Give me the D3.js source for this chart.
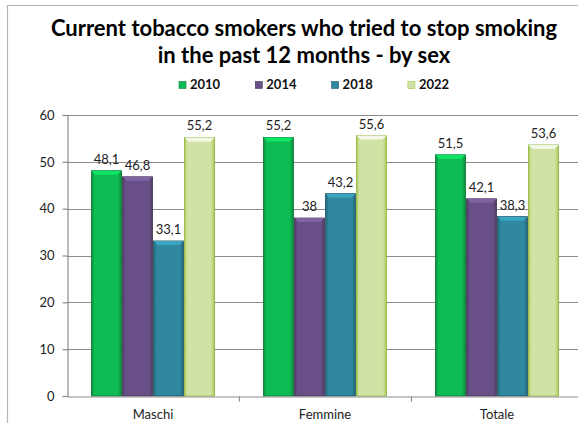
<!DOCTYPE html>
<html><head><meta charset="utf-8">
<script src="https://cdn.jsdelivr.net/npm/d3@7"></script>
<style>html,body{margin:0;padding:0;background:#fff;overflow:hidden}</style>
</head><body>
<svg id="chart" width="578" height="423"></svg>
<script>
const categories = ["Maschi", "Femmine", "Totale"];
const years = ["2010", "2014", "2018", "2022"];
const values2010 = [48.1, 55.2, 51.5];
const values2014 = [46.8, 38, 42.1];
const values2018 = [33.1, 43.2, 38.3];
const values2022 = [55.2, 55.6, 53.6];
const yTicks = [0, 10, 20, 30, 40, 50, 60];
const colors = ["#0dbb52", "#684f87", "#2f87a0", "#d0e3a4"];
const titleLines = ["Current tobacco smokers who tried to stop smoking", "in the past 12 months - by sex"];

const seriesValues = [values2010, values2014, values2018, values2022];
const FONT = "Lato, Carlito, Calibri, 'Open Sans', sans-serif";

const svg = d3.select("#chart");
const defs = svg.append("defs");

// frame
svg.append("path").attr("d", "M7.5,423 L7.5,5.5 L578,5.5")
  .attr("fill", "none").attr("stroke", "#b4b4b4").attr("stroke-width", 1.2);

// title
svg.append("g").selectAll("text").data(titleLines).join("text")
  .attr("x", 304).attr("y", (d, i) => 36 + i * 26.7)
  .attr("text-anchor", "middle")
  .attr("font-family", FONT).attr("font-weight", "bold").attr("font-size", 22)
  .attr("fill", "#000").text(d => d);

// scales
const plot = {left: 67, right: 583, top: 115, bottom: 396};
const x0 = d3.scaleBand().domain(categories).range([plot.left, plot.right]).padding(0);
const x1 = d3.scaleBand().domain(years).range([24, x0.bandwidth() - 24]).padding(0);
const y = d3.scaleLinear().domain([0, 60]).range([plot.bottom, plot.top]);

// gradients per series
function shade(c, k) { const h = d3.hsl(c); h.l = Math.max(0, Math.min(1, h.l * k)); return h.formatHex(); }
colors.forEach((c, i) => {
  const g = defs.append("linearGradient").attr("id", "grad" + i)
    .attr("x1", "0%").attr("x2", "100%").attr("y1", "0%").attr("y2", "0%");
  g.append("stop").attr("offset", "0%").attr("stop-color", shade(c, 0.75));
  g.append("stop").attr("offset", "10%").attr("stop-color", c);
  g.append("stop").attr("offset", "88%").attr("stop-color", c);
  g.append("stop").attr("offset", "100%").attr("stop-color", shade(c, 0.75));
});

// gridlines
svg.append("g").selectAll("line").data(yTicks.filter(t => t > 0)).join("line")
  .attr("x1", plot.left).attr("x2", 578)
  .attr("y1", d => Math.round(y(d)) + 0.5).attr("y2", d => Math.round(y(d)) + 0.5)
  .attr("stroke", "#8c8c8c").attr("stroke-width", 1.2);

// bars
const groups = svg.append("g").selectAll("g").data(categories).join("g")
  .attr("transform", d => `translate(${x0(d)},0)`);

const barData = (cat, ci) => years.map((yr, si) => ({yr, si, v: seriesValues[si][ci]}));

groups.each(function(cat, ci) {
  const g = d3.select(this);
  const data = barData(cat, ci);
  const bars = g.selectAll("g.bar").data(data).join("g").attr("class", "bar");
  bars.append("rect")
    .attr("x", d => x1(d.yr) + 0.5).attr("y", d => y(d.v))
    .attr("width", x1.bandwidth() - 1).attr("height", d => y(0) - y(d.v))
    .attr("fill", d => `url(#grad${d.si})`)
    .attr("stroke", d => shade(colors[d.si], 0.6)).attr("stroke-width", 0.8);
  // bevel top
  bars.append("path")
    .attr("d", d => {
      const xl = x1(d.yr) + 0.5, xr = xl + x1.bandwidth() - 1, t = y(d.v);
      return `M${xl},${t} L${xr},${t} L${xr - 4},${t + 4} L${xl + 4},${t + 4} Z`;
    })
    .attr("fill", d => shade(colors[d.si], 1.25)).attr("opacity", 0.9);
  // labels
  g.selectAll("text.lbl").data(data).join("text").attr("class", "lbl")
    .attr("x", d => x1(d.yr) + x1.bandwidth() / 2)
    .attr("y", d => y(d.v) - 7)
    .attr("text-anchor", "middle")
    .attr("font-family", FONT).attr("font-size", 13).attr("fill", "#222")
    .text(d => String(d.v).replace(".", ","));
});

// y axis
const yAxis = d3.axisLeft(y).tickValues(yTicks).tickSize(5).tickPadding(8).tickFormat(d => d);
const yg = svg.append("g").attr("transform", `translate(${plot.left + 0.5},0)`).call(yAxis);
yg.select(".domain").attr("stroke", "#8c8c8c").attr("stroke-width", 1.2);
yg.selectAll(".tick line").attr("stroke", "#8c8c8c").attr("stroke-width", 1.2);
yg.selectAll(".tick text").attr("font-family", FONT).attr("font-size", 13).attr("fill", "#222");

// x axis
const xAxis = d3.axisBottom(x0).tickSize(0).tickPadding(13);
const xg = svg.append("g").attr("transform", `translate(0,${plot.bottom + 0.5})`).call(xAxis);
xg.select(".domain").attr("stroke", "#8c8c8c").attr("stroke-width", 1.2);
xg.selectAll(".tick text").attr("font-family", FONT).attr("font-size", 13).attr("fill", "#222");
// category separator ticks
xg.append("g").selectAll("line").data(categories.slice(1)).join("line")
  .attr("x1", d => Math.round(x0(d)) + 0.5).attr("x2", d => Math.round(x0(d)) + 0.5)
  .attr("y1", 0).attr("y2", 5).attr("stroke", "#8c8c8c").attr("stroke-width", 1.2);

// legend
const legend = svg.append("g").selectAll("g").data(years).join("g")
  .attr("transform", (d, i) => `translate(${179 + i * 76.3},0)`);
legend.append("rect").attr("x", 0).attr("y", 81.5).attr("width", 7).attr("height", 7)
  .attr("fill", (d, i) => colors[i]).attr("stroke", (d, i) => shade(colors[i], 0.7)).attr("stroke-width", 0.6);
legend.append("text").attr("x", 11).attr("y", 89)
  .attr("font-family", FONT).attr("font-weight", "bold").attr("font-size", 13).attr("fill", "#111")
  .text(d => d);
</script>
</body></html>
